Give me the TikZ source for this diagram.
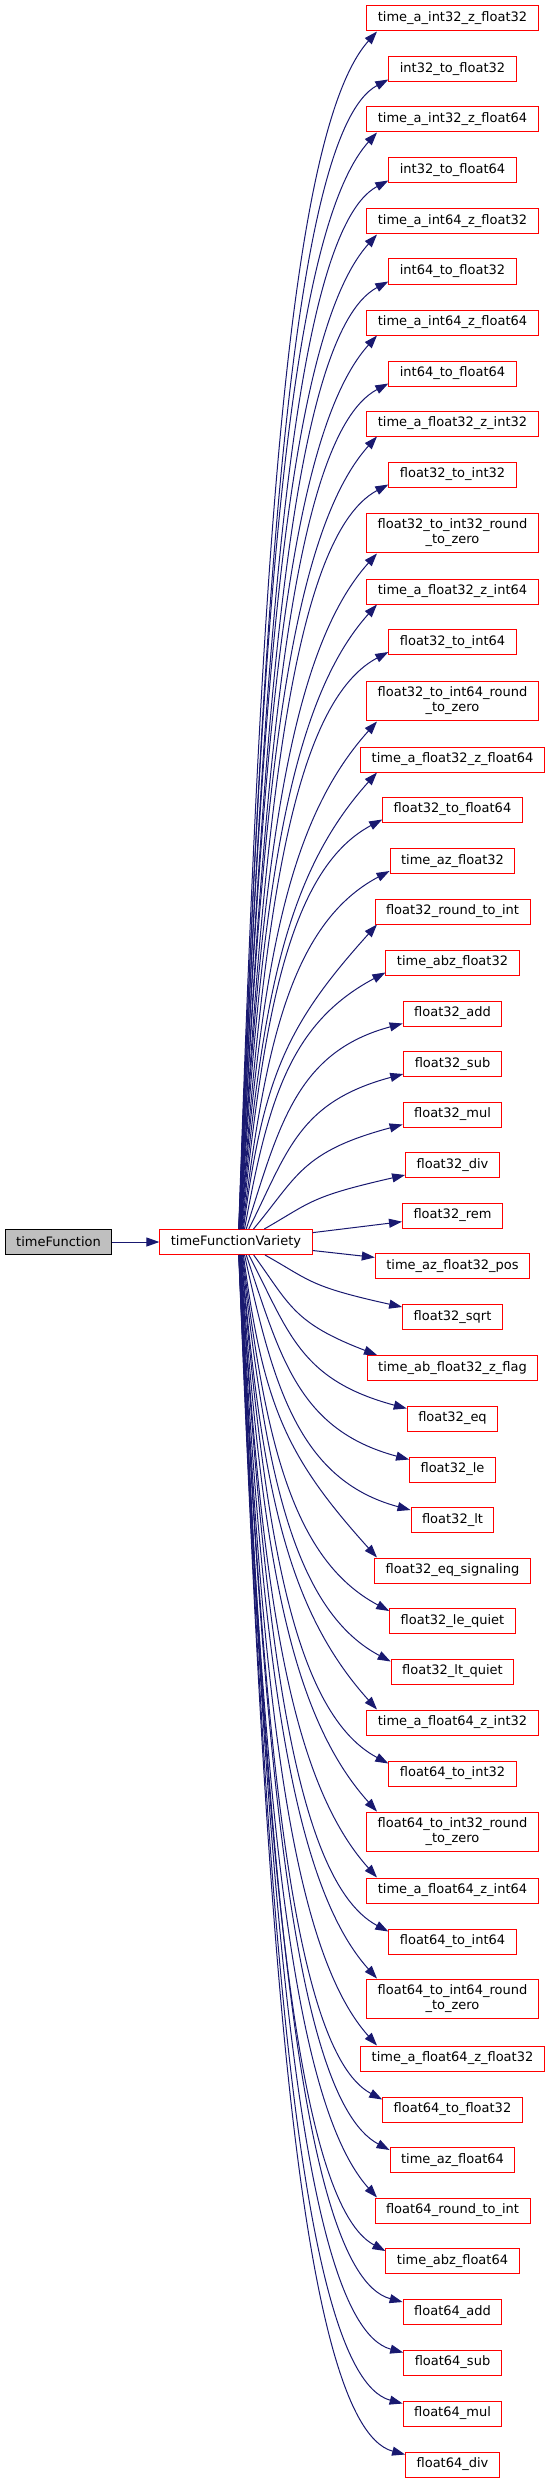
\documentclass[tikz,border=0pt]{standalone}
\usepackage{fontspec}
\setmainfont{DejaVu Sans}
\usetikzlibrary{arrows.meta}
\definecolor{callblue}{RGB}{25,25,112}
\newdimen\ptx
\newdimen\pty
\begin{document}
\begin{tikzpicture}[x=1pt,y=1pt,
    fn/.style={draw=red,line width=1pt,fill=white,minimum height=25pt,inner xsep=11pt,inner ysep=6pt,align=center,font=\fontsize{13}{15}\selectfont},
    root/.style={fn,draw=black,fill=black!25},
    call/.style={draw=callblue,line width=1pt,-{Triangle[length=13pt,width=9pt]}}]
\useasboundingbox (0,0) rectangle (551,-2483);
\node[root] (tf) at (58.5,-1242) {timeFunction};
\node[fn] (tfv) at (236,-1242) {timeFunctionVariety};
\draw[call] (tf) -- (tfv);
\foreach \n/\t/\y in {ti32f32/time\_a\_int32\_z\_float32/18.5, i32f32/int32\_to\_float32/69.5,
    ti32f64/time\_a\_int32\_z\_float64/119.5, i32f64/int32\_to\_float64/170.5,
    ti64f32/time\_a\_int64\_z\_float32/221.5, i64f32/int64\_to\_float32/271.5,
    ti64f64/time\_a\_int64\_z\_float64/322.5, i64f64/int64\_to\_float64/373.5,
    tf32i32/time\_a\_float32\_z\_int32/423.5, f32i32/float32\_to\_int32/474.5,
    f32i32r/{float32\_to\_int32\_round\\\_to\_zero}/533,
    tf32i64/time\_a\_float32\_z\_int64/591.5, f32i64/float32\_to\_int64/642,
    f32i64r/{float32\_to\_int64\_round\\\_to\_zero}/701,
    tf32f64/time\_a\_float32\_z\_float64/759.5, f32f64/float32\_to\_float64/809.5,
    taz32/time\_az\_float32/861, f32rti/float32\_round\_to\_int/911.5,
    tabz32/time\_abz\_float32/962.5, f32add/float32\_add/1013.5,
    f32sub/float32\_sub/1064, f32mul/float32\_mul/1114.5,
    f32div/float32\_div/1165, f32rem/float32\_rem/1215.5,
    taz32pos/time\_az\_float32\_pos/1266, f32sqrt/float32\_sqrt/1317,
    tab32flag/time\_ab\_float32\_z\_flag/1368, f32eq/float32\_eq/1418.5,
    f32le/float32\_le/1469.5, f32lt/float32\_lt/1520,
    f32eqs/float32\_eq\_signaling/1570.5, f32leq/float32\_le\_quiet/1621,
    f32ltq/float32\_lt\_quiet/1671.5, tf64i32/time\_a\_float64\_z\_int32/1722.5,
    f64i32/float64\_to\_int32/1773.5,
    f64i32r/{float64\_to\_int32\_round\\\_to\_zero}/1832,
    tf64i64/time\_a\_float64\_z\_int64/1890.5, f64i64/float64\_to\_int64/1941.5,
    f64i64r/{float64\_to\_int64\_round\\\_to\_zero}/1999,
    tf64f32/time\_a\_float64\_z\_float32/2058.5, f64f32/float64\_to\_float32/2109.5,
    taz64/time\_az\_float64/2160, f64rti/float64\_round\_to\_int/2210.5,
    tabz64/time\_abz\_float64/2261, f64add/float64\_add/2312,
    f64sub/float64\_sub/2362.5, f64mul/float64\_mul/2413.5,
    f64div/float64\_div/2464.5}{
  \node[fn] (\n) at (452.5,-\y) {\t};
  \pgfmathsetmacro{\ady}{abs(1242-\y)}
  \ifdim\ady pt<30pt
    \draw[call] (tfv) -- (\n);
  \else
    \ifdim\y pt<1242pt \def\sanc{north}\def\tanc{south west}\def\sgn{1}\else\def\sanc{south}\def\tanc{north west}\def\sgn{-1}\fi
    \pgfextractx{\ptx}{\pgfpointanchor{tfv}{\sanc}}\pgfextracty{\pty}{\pgfpointanchor{tfv}{\sanc}}
    \edef\sx{\the\ptx}\edef\sy{\the\pty}
    \pgfextractx{\ptx}{\pgfpointanchor{\n}{\tanc}}\pgfextracty{\pty}{\pgfpointanchor{\n}{\tanc}}
    \edef\lx{\the\ptx}\edef\ly{\the\pty}
    \pgfmathsetmacro{\soff}{1+min(28,2100/\ady)}
    \pgfmathsetmacro{\ox}{max(0,377-\lx)}
    \pgfmathsetmacro{\oy}{\lx<377 ? 0 : 3*(\sgn)}
    \pgfmathsetmacro{\wd}{\lx+\ox-\sx-\soff}
    \pgfmathsetmacro{\ht}{\ly+\oy-\sy}
    \pgfmathsetmacro{\amax}{\lx<377 ? 48 : (\lx<395 ? 28 : 15)}
    \pgfmathsetmacro{\ang}{min(\amax,\ady/6)}
    \pgfmathsetmacro{\fx}{0.15+0.25*max(0,1-\ady/300)}
    \pgfmathsetmacro{\cax}{\soff+\fx*\wd}
    \pgfmathsetmacro{\cay}{0.5*\ht}
    \pgfmathsetmacro{\cbx}{\ox-0.68*\wd}
    \pgfmathsetmacro{\cby}{\oy-(\sgn)*0.68*\wd*tan(\ang)}
    \draw[call] ([shift={(\soff,0)}]tfv.\sanc) .. controls ([shift={(\cax,\cay)}]tfv.\sanc) and ([shift={(\cbx,\cby)}]\n.\tanc) .. ([shift={(\ox,\oy)}]\n.\tanc);
  \fi
}
\end{tikzpicture}
\end{document}
